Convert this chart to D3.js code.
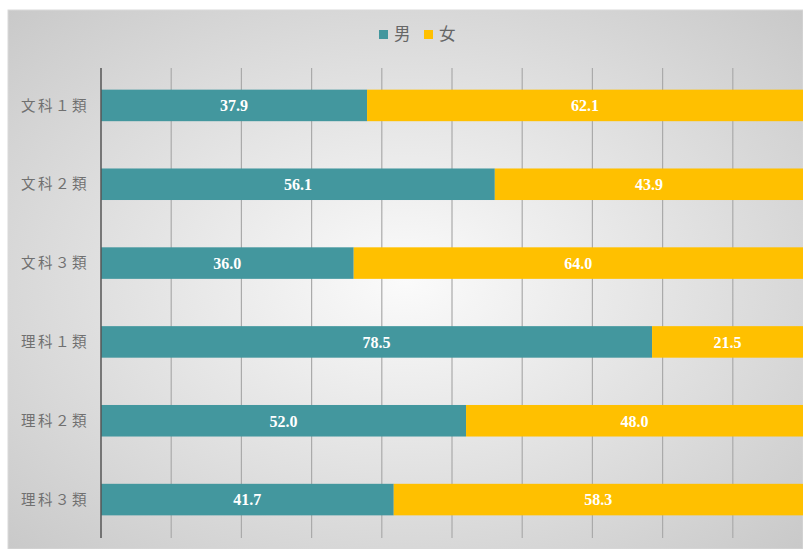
<!DOCTYPE html>
<html>
<head>
<meta charset="utf-8">
<script src="https://cdn.jsdelivr.net/npm/d3@7.9.0/dist/d3.min.js"></script>
<style>
  body { margin: 0; background: #fff; }
  svg { display: block; }
</style>
</head>
<body>
<div id="chart"></div>
<script>
const categories = ['文科１類', '文科２類', '文科３類', '理科１類', '理科２類', '理科３類'];
const male = [37.9, 56.1, 36.0, 78.5, 52.0, 41.7];
const female = [62.1, 43.9, 64.0, 21.5, 48.0, 58.3];
const seriesNames = ['男', '女'];
const colors = ['#43979e', '#ffc000'];

const width = 803;
const height = 549;
const margin = { top: 66, right: 0, bottom: 10, left: 101 };

const svg = d3.select('#chart')
  .append('svg')
  .attr('width', width)
  .attr('height', height);

const defs = svg.append('defs');
const grad = defs.append('radialGradient')
  .attr('id', 'bg')
  .attr('cx', '50%').attr('cy', '50%').attr('r', '72%');
grad.append('stop').attr('offset', '0%').attr('stop-color', '#fbfbfb');
grad.append('stop').attr('offset', '100%').attr('stop-color', '#c8c8c8');

svg.append('rect')
  .attr('x', 8).attr('y', 10)
  .attr('width', width - 8).attr('height', height - 10)
  .attr('fill', 'url(#bg)')
  .attr('stroke', '#d9d9d9');

const data = categories.map((c, i) => ({ cat: c, values: [male[i], female[i]] }));

const x = d3.scaleLinear()
  .domain([0, 100])
  .range([margin.left, width - margin.right]);

const y = d3.scaleBand()
  .domain(categories)
  .range([margin.top, height - margin.bottom])
  .paddingInner(0.6)
  .paddingOuter(0.3);

// gridlines
svg.append('g')
  .selectAll('line')
  .data(d3.range(10, 100, 10))
  .join('line')
  .attr('x1', d => x(d)).attr('x2', d => x(d))
  .attr('y1', 68).attr('y2', 538)
  .attr('stroke', '#aaaaaa')
  .attr('stroke-width', 1.2);

// bars
const stack = d3.stack().keys([0, 1]).value((d, k) => d.values[k]);
const series = stack(data);

const groups = svg.append('g')
  .selectAll('g')
  .data(series)
  .join('g')
  .attr('fill', (d, i) => colors[i]);

groups.selectAll('rect')
  .data(d => d)
  .join('rect')
  .attr('x', d => x(d[0]))
  .attr('width', d => x(d[1]) - x(d[0]))
  .attr('y', d => y(d.data.cat))
  .attr('height', y.bandwidth());

groups.selectAll('text')
  .data(d => d)
  .join('text')
  .attr('x', d => (x(d[0]) + x(d[1])) / 2)
  .attr('y', d => y(d.data.cat) + y.bandwidth() / 2)
  .attr('dy', '0.36em')
  .attr('text-anchor', 'middle')
  .attr('fill', '#fff')
  .attr('font-family', '"Liberation Serif", "DejaVu Serif", serif')
  .attr('font-weight', 'bold')
  .attr('font-size', 16)
  .text(d => (d[1] - d[0]).toFixed(1));

// axis line
svg.append('line')
  .attr('x1', x(0)).attr('x2', x(0))
  .attr('y1', 68).attr('y2', 538)
  .attr('stroke', '#555')
  .attr('stroke-width', 1.5);

// category labels
svg.append('g')
  .selectAll('text')
  .data(categories)
  .join('text')
  .attr('x', 89)
  .attr('y', d => y(d) + y.bandwidth() / 2)
  .attr('dy', '0.36em')
  .attr('text-anchor', 'end')
  .attr('fill', '#707070')
  .attr('font-family', '"Noto Sans CJK JP", sans-serif')
  .attr('font-size', 14.5)
  .attr('letter-spacing', 2.5)
  .text(d => d);

// legend
const legend = svg.append('g');
const legendX = [379, 424];
seriesNames.forEach((name, i) => {
  legend.append('rect')
    .attr('x', legendX[i]).attr('y', 30)
    .attr('width', 9).attr('height', 9)
    .attr('fill', colors[i]);
  legend.append('text')
    .attr('x', legendX[i] + 15).attr('y', 34)
    .attr('dy', '0.36em')
    .attr('fill', '#666')
    .attr('font-family', '"Noto Sans CJK JP", sans-serif')
    .attr('font-size', 16.5)
    .text(name);
});
</script>
</body>
</html>
